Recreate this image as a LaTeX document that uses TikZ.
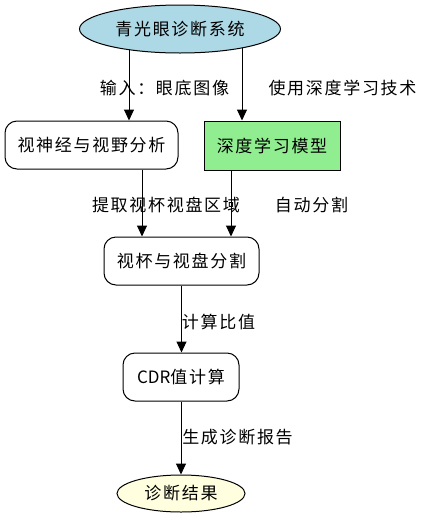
\documentclass[tikz,border=0pt]{standalone}
\usepackage{fontspec}
\setmainfont{Noto Sans CJK SC}[LetterSpace=10]
\usetikzlibrary{shapes.geometric,arrows.meta,backgrounds}
\begin{document}
\begin{tikzpicture}[x=1pt,y=-1pt,
  every node/.style={font=\fontsize{17pt}{20pt}\selectfont, inner sep=0pt},
  base/.style={draw=black, line width=1pt, minimum height=48pt, align=center},
  rbox/.style={base, rectangle, rounded corners=12pt, fill=white},
  gbox/.style={base, rectangle, fill=lgreen},
  ell/.style={base, ellipse},
  lbl/.style={},
  arr/.style={-{Triangle[length=11pt,width=10pt]}, line width=1pt}]
\definecolor{lblue}{HTML}{ADD8E6}
\definecolor{lgreen}{HTML}{90EE90}
\definecolor{lyellow}{HTML}{FFFFE0}
\useasboundingbox (0,0) rectangle (424,523);
\node[ell, fill=lblue, minimum width=201pt, minimum height=48pt] (top) at (180,29) {青光眼诊断系统};
\node[rbox, minimum width=173pt] (left) at (91.5,145) {视神经与视野分析};
\node[gbox, minimum width=136pt, minimum height=49pt] (green) at (272,145.5) {深度学习模型};
\node[rbox, minimum width=155pt] (mid) at (181.5,261) {视杯与视盘分割};
\node[rbox, minimum width=116pt] (cdr) at (181,377) {{\addfontfeatures{LetterSpace=0}CDR}值计算};
\node[ell, fill=lyellow, minimum width=128pt, minimum height=37pt] (res) at (181,493.5) {诊断结果};
\begin{scope}[on background layer]
\fill[white] (0,0) rectangle (424,523);
\draw[arr] ([xshift=-51pt]top.center) -- ([xshift=-51pt]top.center |- left.north);
\draw[arr] ([xshift=62pt]top.center) -- ([xshift=62pt]top.center |- green.north);
\draw[arr] ([xshift=50.5pt]left.south) -- ([xshift=50.5pt]left.south |- mid.north);
\draw[arr] ([xshift=-41pt]green.south) -- ([xshift=-41pt]green.south |- mid.north);
\draw[arr] (mid.south) -- (mid.south |- cdr.north);
\draw[arr] (cdr.south) -- (res.north);
\end{scope}
\node[lbl] (l1) at (164.5,88) {输入：眼底图像};
\node[lbl] (l2) at (342.5,88) {使用深度学习技术};
\node[lbl] (l3) at (166,205) {提取视杯视盘区域};
\node[lbl] (l4) at (311.5,205) {自动分割};
\node[lbl] (l5) at (218.5,322) {计算比值};
\node[lbl] (l6) at (237.5,437) {生成诊断报告};
\end{tikzpicture}
\end{document}
